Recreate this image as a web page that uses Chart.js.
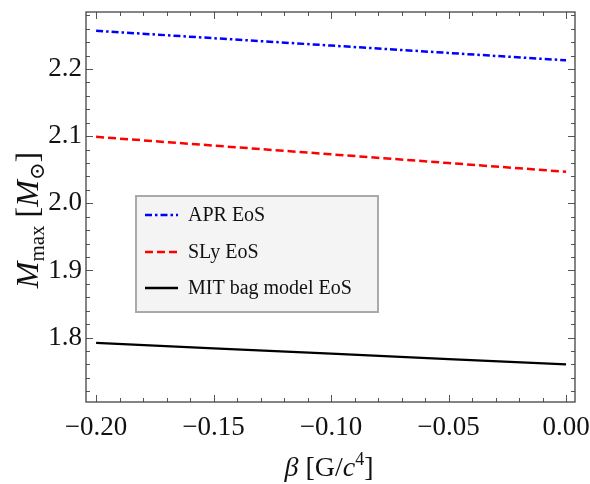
<!DOCTYPE html>
<html>
<head>
<meta charset="utf-8">
<script src="https://cdn.jsdelivr.net/npm/chart.js@4.4.0/dist/chart.umd.min.js"></script>
<style>
html,body{margin:0;padding:0;background:#fff;}
#wrap{width:590px;height:484px;}
</style>
</head>
<body>
<div id="wrap"><canvas id="c" width="590" height="484"></canvas></div>
<script>
const beta = [-0.20, -0.15, -0.10, -0.05, 0.00];
const aprMass = [2.257, 2.246, 2.235, 2.224, 2.213];
const slyMass = [2.099, 2.086, 2.073, 2.060, 2.047];
const mitMass = [1.792, 1.784, 1.776, 1.768, 1.760];
const seriesLabels = ['APR EoS', 'SLy EoS', 'MIT bag model EoS'];
const xTickStep = 0.05, yTickStep = 0.1;

const SERIF = '"Liberation Serif", "DejaVu Serif", serif';

function pts(ys){ return beta.map((b,i)=>({x:b, y:ys[i]})); }

const frameTicks = {
  id:'frameTicks',
  afterDraw(chart){
    const {ctx, chartArea:a, scales:{x, y}} = chart;
    ctx.save();
    ctx.strokeStyle = '#555';
    ctx.lineWidth = 1;
    for (let k = -20; k <= 0; k++){
      const v = k/100;
      const px = Math.round(x.getPixelForValue(v)) + 0.5;
      const major = (k % 5 === 0);
      const L = major ? 7 : 4;
      ctx.beginPath();
      ctx.moveTo(px, a.bottom); ctx.lineTo(px, a.bottom - L);
      ctx.moveTo(px, a.top); ctx.lineTo(px, a.top + L);
      ctx.stroke();
    }
    for (let k = 86; k <= 114; k++){
      const v = k/50;
      if (v < y.min || v > y.max) continue;
      const py = Math.round(y.getPixelForValue(v)) + 0.5;
      const major = (k % 5 === 0);
      const L = major ? 7 : 4;
      ctx.beginPath();
      ctx.moveTo(a.left, py); ctx.lineTo(a.left + L, py);
      ctx.moveTo(a.right, py); ctx.lineTo(a.right - L, py);
      ctx.stroke();
    }
    ctx.strokeStyle = '#444';
    ctx.lineWidth = 1.3;
    ctx.strokeRect(a.left, a.top, a.right - a.left, a.bottom - a.top);

    // legend
    const lx = 136, ly = 196, lw = 242, lh = 116;
    ctx.fillStyle = '#f4f4f4';
    ctx.fillRect(lx, ly, lw, lh);
    ctx.strokeStyle = '#aaaaaa';
    ctx.lineWidth = 2;
    ctx.strokeRect(lx, ly, lw, lh);
    const rows = [215, 252, 288];
    chart.data.datasets.forEach((ds, i) => {
      const yy = rows[i];
      ctx.beginPath();
      ctx.strokeStyle = ds.borderColor;
      ctx.lineWidth = 2.5;
      ctx.setLineDash(ds.borderDash || []);
      ctx.moveTo(145, yy); ctx.lineTo(178, yy);
      ctx.stroke();
      ctx.setLineDash([]);
      ctx.fillStyle = '#111';
      ctx.font = '20px ' + SERIF;
      ctx.textBaseline = 'middle';
      ctx.textAlign = 'left';
      ctx.fillText(ds.label, 188, yy + 1);
    });

    function rich(segs){
      let w = 0;
      segs.forEach(s => { ctx.font = s.font; s.w = ctx.measureText(s.t).width; w += s.w; });
      return w;
    }
    function drawRich(segs, cx, baseY){
      const w = rich(segs);
      let xx = cx - w/2;
      ctx.textAlign = 'left';
      ctx.textBaseline = 'alphabetic';
      segs.forEach(s => { ctx.font = s.font; ctx.fillText(s.t, xx, baseY + (s.dy||0)); xx += s.w; });
    }
    ctx.fillStyle = '#111';
    const big = '28px ' + SERIF, bigI = 'italic 28px ' + SERIF, sup = '18px ' + SERIF;
    drawRich([
      {t:'β', font:bigI},
      {t:' [G/', font:big},
      {t:'c', font:bigI},
      {t:'4', font:sup, dy:-11},
      {t:']', font:big}
    ], 329, 476);

    ctx.save();
    ctx.translate(38, 220);
    ctx.rotate(-Math.PI/2);
    const yb = '32px ' + SERIF, ybI = 'italic 32px ' + SERIF, sub = '21px ' + SERIF;
    drawRich([
      {t:'M', font:ybI},
      {t:'max', font:sub, dy:6},
      {t:' [', font:yb},
      {t:'M', font:ybI},
      {t:'⊙', font:sub, dy:6},
      {t:']', font:yb}
    ], 0, 0);
    ctx.restore();
    ctx.restore();
  }
};

function noPad(s){ s.paddingTop = 0; s.paddingBottom = 0; s.paddingLeft = 0; s.paddingRight = 0; }

new Chart(document.getElementById('c'), {
  type: 'scatter',
  data: {
    datasets: [
      {label: seriesLabels[0], data: pts(aprMass), showLine: true, borderColor: '#0000ff', borderWidth: 2.5, borderDash: [7,3,2.5,3], pointRadius: 0, fill: false},
      {label: seriesLabels[1], data: pts(slyMass), showLine: true, borderColor: '#ff0000', borderWidth: 2.5, borderDash: [8,4], pointRadius: 0, fill: false},
      {label: seriesLabels[2], data: pts(mitMass), showLine: true, borderColor: '#000000', borderWidth: 2.2, pointRadius: 0, fill: false}
    ]
  },
  options: {
    responsive: false,
    animation: false,
    devicePixelRatio: 1,
    layout: {padding: {top: 12, right: 15, left: 0, bottom: 0}},
    plugins: {legend: {display: false}, tooltip: {enabled: false}},
    scales: {
      x: {
        type: 'linear', min: -0.2043, max: 0.0038,
        grid: {display: false, drawTicks: false},
        border: {display: false},
        afterFit(s){ s.height = 82; noPad(s); },
        ticks: {
          stepSize: xTickStep, includeBounds: false, maxRotation: 0, autoSkip: false,
          padding: 10, color: '#111',
          font: {family: SERIF, size: 27},
          callback: v => (Math.abs(v) < 1e-9 ? '0.00' : v.toFixed(2).replace('-', '−'))
        }
      },
      y: {
        type: 'linear', min: 1.704, max: 2.285,
        grid: {display: false, drawTicks: false},
        border: {display: false},
        afterFit(s){ s.width = 86; noPad(s); },
        ticks: {
          stepSize: yTickStep, includeBounds: false, autoSkip: false,
          padding: 4, color: '#111',
          font: {family: SERIF, size: 27},
          callback: v => v.toFixed(1)
        }
      }
    }
  },
  plugins: [frameTicks]
});
</script>
</body>
</html>
